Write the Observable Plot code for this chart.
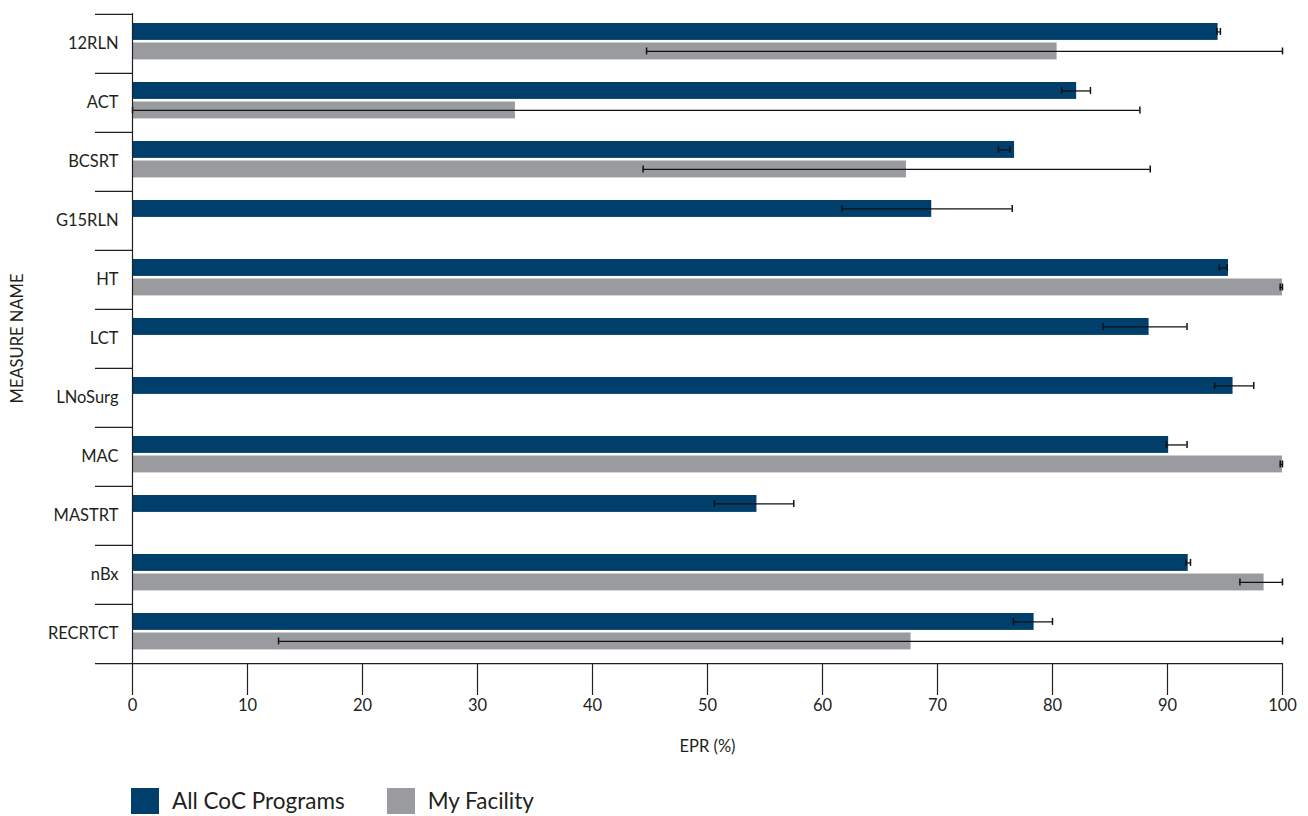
<!DOCTYPE html>
<html>
<head>
<meta charset="utf-8">
<script src="https://cdn.jsdelivr.net/npm/d3@7"></script>
<script src="https://cdn.jsdelivr.net/npm/@observablehq/plot@0.6"></script>
<style>
  html, body { margin: 0; padding: 0; background: #fff; }
  body { position: relative; width: 1308px; height: 816px; font-family: Lato, "Open Sans", sans-serif; }
  #legend { position: absolute; left: 131px; top: 787px; display: flex; align-items: center; font-size: 22.5px; color: #231f20; }
  .sw { width: 28px; height: 26px; display: inline-block; margin-right: 13px; }
  .item { display: flex; align-items: center; margin-right: 42px; }
</style>
</head>
<body>
<div id="chart"></div>
<div id="legend"></div>
<script>
const measures = ["12RLN","ACT","BCSRT","G15RLN","HT","LCT","LNoSurg","MAC","MASTRT","nBx","RECRTCT"];
const allCoc   = [94.4, 82.1, 76.7, 69.5, 95.3, 88.4, 95.7, 90.1, 54.3, 91.8, 78.4];
const allLo    = [94.3, 80.8, 75.3, 61.7, 94.5, 84.4, 94.1, 89.9, 50.6, 91.6, 76.6];
const allHi    = [94.6, 83.3, 76.3, 76.5, 95.2, 91.7, 97.5, 91.7, 57.5, 92.0, 80.0];
const myFac    = [80.4, 33.3, 67.3, null, 100, null, null, 100, null, 98.4, 67.7];
const myLo     = [44.7, 0.0, 44.4, null, 99.8, null, null, 99.8, null, 96.3, 12.7];
const myHi     = [100, 87.6, 88.5, null, 100, null, null, 100, null, 100, 100];
const xTicks   = [0,10,20,30,40,50,60,70,80,90,100];
const seriesNames = ["All CoC Programs", "My Facility"];
const seriesColors = ["#003f6b", "#9a9b9e"];

const allRows = measures.map((m, i) => ({measure: m, value: allCoc[i], lo: allLo[i], hi: allHi[i]}));
const myRows = measures.map((m, i) => ({measure: m, value: myFac[i], lo: myLo[i], hi: myHi[i]})).filter(d => d.value != null);

const band = 650 / measures.length;
const lastMeasure = measures[measures.length - 1];

const chart = Plot.plot({
  width: 1308,
  height: 770,
  marginTop: 13,
  marginBottom: 107,
  marginLeft: 132,
  marginRight: 26,
  style: {fontFamily: "Lato, 'Open Sans', sans-serif", fontSize: "16.5px", color: "#231f20"},
  x: {domain: [0, 100], ticks: xTicks, label: "EPR (%)", labelAnchor: "center", labelArrow: "none"},
  y: {domain: measures, padding: 0, label: "MEASURE NAME", labelArrow: "none"},
  marks: [
    Plot.barX(allRows, {x: "value", y: "measure", fill: seriesColors[0], insetTop: 9, insetBottom: band - 26}),
    Plot.barX(myRows, {x: "value", y: "measure", fill: seriesColors[1], insetTop: 28.5, insetBottom: band - 45.5}),
    // error bars
    Plot.ruleY(allRows, {x1: "lo", x2: "hi", y: "measure", dy: 17.5 - band / 2, stroke: "#111", strokeWidth: 1.3}),
    Plot.tickX(allRows, {x: "lo", y: "measure", insetTop: 14, insetBottom: band - 21, stroke: "#111", strokeWidth: 1.5}),
    Plot.tickX(allRows, {x: "hi", y: "measure", insetTop: 14, insetBottom: band - 21, stroke: "#111", strokeWidth: 1.5}),
    Plot.ruleY(myRows, {x1: "lo", x2: "hi", y: "measure", dy: 37 - band / 2, stroke: "#111", strokeWidth: 1.3}),
    Plot.tickX(myRows, {x: "lo", y: "measure", insetTop: 33.5, insetBottom: band - 40.5, stroke: "#111", strokeWidth: 1.5}),
    Plot.tickX(myRows, {x: "hi", y: "measure", insetTop: 33.5, insetBottom: band - 40.5, stroke: "#111", strokeWidth: 1.5}),
    // axes
    Plot.ruleX([0], {stroke: "#231f20", strokeWidth: 1.2}),
    Plot.ruleY([lastMeasure], {y: d => d, dy: band / 2, stroke: "#231f20", strokeWidth: 1.2}),
    Plot.axisY({tickSize: 0, tickPadding: 14, fontSize: 16.5, label: "MEASURE NAME", labelAnchor: "center", labelOffset: 121, labelArrow: "none"}),
    Plot.axisY({tickSize: 37, dy: -band / 2, text: null, label: null, stroke: "#231f20", strokeWidth: 1.2}),
    Plot.axisY([lastMeasure], {tickSize: 37, dy: band / 2, text: null, label: null, stroke: "#231f20", strokeWidth: 1.2}),
    Plot.axisX({ticks: xTicks, tickSize: 32, tickPadding: 4, fontSize: 16.5, label: "EPR (%)", labelAnchor: "center", labelOffset: 88, labelArrow: "none", stroke: "#231f20", strokeWidth: 1.2})
  ]
});
document.getElementById("chart").append(chart);

const legend = document.getElementById("legend");
seriesNames.forEach((name, i) => {
  const item = document.createElement("div");
  item.className = "item";
  const sw = document.createElement("span");
  sw.className = "sw";
  sw.style.background = seriesColors[i];
  const t = document.createElement("span");
  t.textContent = name;
  item.append(sw, t);
  legend.append(item);
});
</script>
</body>
</html>
